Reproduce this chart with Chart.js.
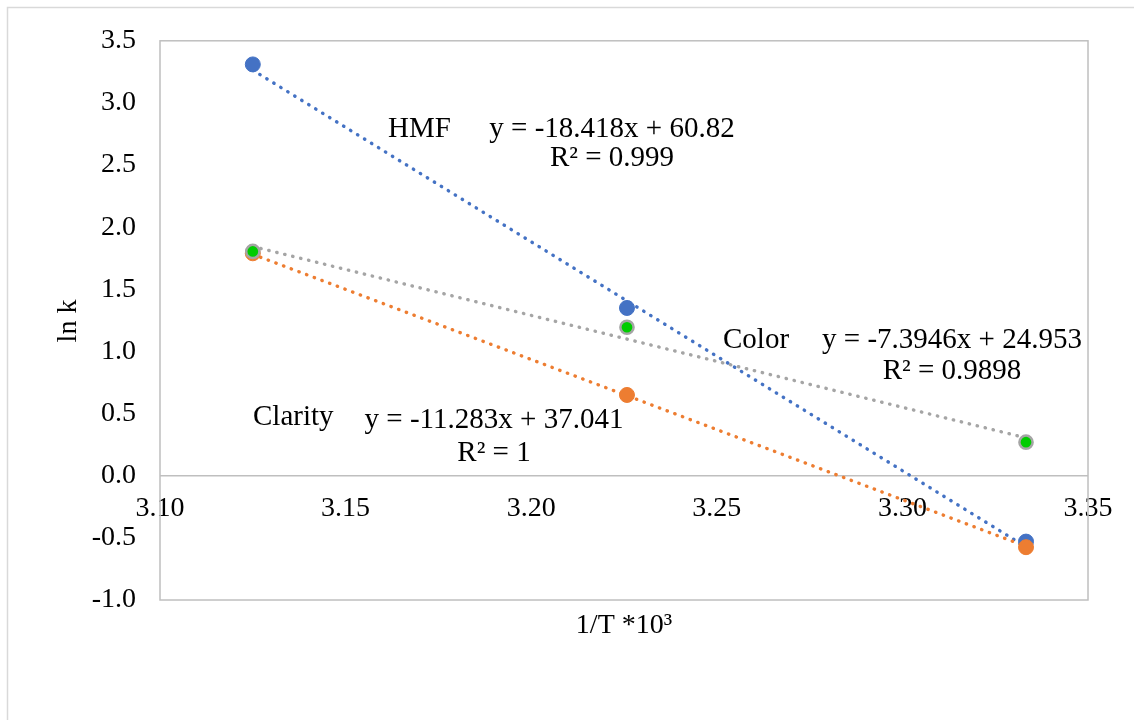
<!DOCTYPE html>
<html>
<head>
<meta charset="utf-8">
<script src="https://cdn.jsdelivr.net/npm/chart.js@4.4.1/dist/chart.umd.min.js"></script>
<style>
  html, body { margin: 0; padding: 0; background: #ffffff; }
  #wrap { position: relative; width: 1134px; height: 720px; }
</style>
</head>
<body>
<div id="wrap"><canvas id="c" width="1134" height="720"></canvas></div>
<script>
// ---- data ----
const invTemp = [3.125, 3.2258, 3.3333];          // 1/T * 10^3
const hmfLnK = [3.31, 1.35, -0.53];
const clarityLnK = [1.79, 0.65, -0.575];
const colorLnK = [1.805, 1.195, 0.27];

// trendline equations shown on the chart
const trendNames = ['HMF', 'Color', 'Clarity'];
const trendSlopes = [-18.418, -7.3946, -11.283];
const trendIntercepts = [60.82, 24.953, 37.041];
const trendEquations = ['y = -18.418x + 60.82', 'y = -7.3946x + 24.953', 'y = -11.283x + 37.041'];
const trendR2 = ['R² = 0.999', 'R² = 0.9898', 'R² = 1'];

const xTicks = [3.10, 3.15, 3.20, 3.25, 3.30, 3.35];
const yTicks = [-1.0, -0.5, 0.0, 0.5, 1.0, 1.5, 2.0, 2.5, 3.0, 3.5];

const xTitle = '1/T *10³';
const yTitle = 'ln k';

const FONT = '"Liberation Serif", "Times New Roman", serif';
const BLUE = '#4472C4', ORANGE = '#ED7D31', GRAY = '#A5A5A5', GREEN = '#00CC00';

function trendData(i) {
  const xs = [invTemp[0], invTemp[invTemp.length - 1]];
  return xs.map(x => ({ x: x, y: trendSlopes[i] * x + trendIntercepts[i] }));
}
function pts(ys) { return invTemp.map((x, i) => ({ x: x, y: ys[i] })); }

function trendDataset(i, color, order) {
  return {
    type: 'line', data: trendData(i), borderColor: color, borderWidth: 3.4,
    borderDash: [0.4, 7.8], borderCapStyle: 'round', pointRadius: 0,
    fill: false, order: order, showLine: true
  };
}

const annotationPlugin = {
  id: 'annot',
  beforeDatasetsDraw(chart) {
    const ctx = chart.ctx, a = chart.chartArea;
    const ys = chart.scales.y;
    ctx.save();
    // outer chart border
    ctx.strokeStyle = '#D9D9D9';
    ctx.lineWidth = 1.5;
    ctx.strokeRect(7.5, 7.5, 1200, 800);
    // plot area border
    ctx.strokeStyle = '#BFBFBF';
    ctx.lineWidth = 1.5;
    ctx.strokeRect(a.left, a.top, a.right - a.left, a.bottom - a.top);
    // x axis line at y = 0
    const y0 = ys.getPixelForValue(0);
    ctx.beginPath();
    ctx.moveTo(a.left, y0);
    ctx.lineTo(a.right, y0);
    ctx.stroke();
    ctx.restore();
  },
  afterDraw(chart) {
    const ctx = chart.ctx;
    ctx.save();
    ctx.fillStyle = '#000000';
    ctx.textBaseline = 'alphabetic';
    ctx.font = '29px ' + FONT;
    // HMF
    ctx.textAlign = 'left';
    ctx.fillText(trendNames[0], 388, 137);
    ctx.textAlign = 'center';
    ctx.fillText(trendEquations[0], 612, 137);
    ctx.fillText(trendR2[0], 612, 166);
    // Color
    ctx.textAlign = 'left';
    ctx.fillText(trendNames[1], 723, 348);
    ctx.textAlign = 'center';
    ctx.fillText(trendEquations[1], 952, 348);
    ctx.fillText(trendR2[1], 952, 379);
    // Clarity
    ctx.textAlign = 'left';
    ctx.fillText(trendNames[2], 253, 425);
    ctx.textAlign = 'center';
    ctx.fillText(trendEquations[2], 494, 428);
    ctx.fillText(trendR2[2], 494, 461);
    // axis titles
    ctx.font = '28px ' + FONT;
    ctx.textAlign = 'center';
    ctx.fillText(xTitle, 624, 633);
    ctx.translate(76, 321);
    ctx.rotate(-Math.PI / 2);
    ctx.fillText(yTitle, 0, 0);
    ctx.restore();
  }
};

new Chart(document.getElementById('c'), {
  type: 'scatter',
  data: {
    datasets: [
      trendDataset(0, BLUE, 12),
      trendDataset(1, GRAY, 11),
      trendDataset(2, ORANGE, 10),
      { label: 'HMF', data: pts(hmfLnK), backgroundColor: BLUE, borderColor: BLUE,
        pointRadius: 7.5, borderWidth: 1, order: 3 },
      { label: 'Clarity', data: pts(clarityLnK), backgroundColor: ORANGE, borderColor: ORANGE,
        pointRadius: 7.5, borderWidth: 1, order: 2 },
      { label: 'Color', data: pts(colorLnK), backgroundColor: GREEN, borderColor: GRAY,
        pointRadius: 6.6, borderWidth: 2.5, order: 1 }
    ]
  },
  options: {
    responsive: false,
    animation: false,
    events: [],
    layout: { padding: { left: 0, top: 40, right: 46, bottom: 120 } },
    plugins: { legend: { display: false }, tooltip: { enabled: false } },
    scales: {
      x: {
        type: 'linear', position: { y: 0 }, min: 3.10, max: 3.35,
        grid: { display: false, drawTicks: false },
        border: { display: false },
        afterBuildTicks: s => { s.ticks = xTicks.map(v => ({ value: v })); },
        ticks: { color: '#000', font: { family: FONT, size: 28 }, padding: 16,
                 maxRotation: 0, autoSkip: false,
                 callback: v => Number(v).toFixed(2) }
      },
      y: {
        type: 'linear', position: 'left', min: -1.0, max: 3.5,
        grid: { display: false, drawTicks: false },
        border: { display: false },
        afterBuildTicks: s => { s.ticks = yTicks.map(v => ({ value: v })); },
        afterFit: s => { s.width = 160; },
        ticks: { color: '#000', font: { family: FONT, size: 28 }, padding: 24,
                 autoSkip: false,
                 callback: v => Number(v).toFixed(1) }
      }
    }
  },
  plugins: [annotationPlugin]
});
</script>
</body>
</html>
